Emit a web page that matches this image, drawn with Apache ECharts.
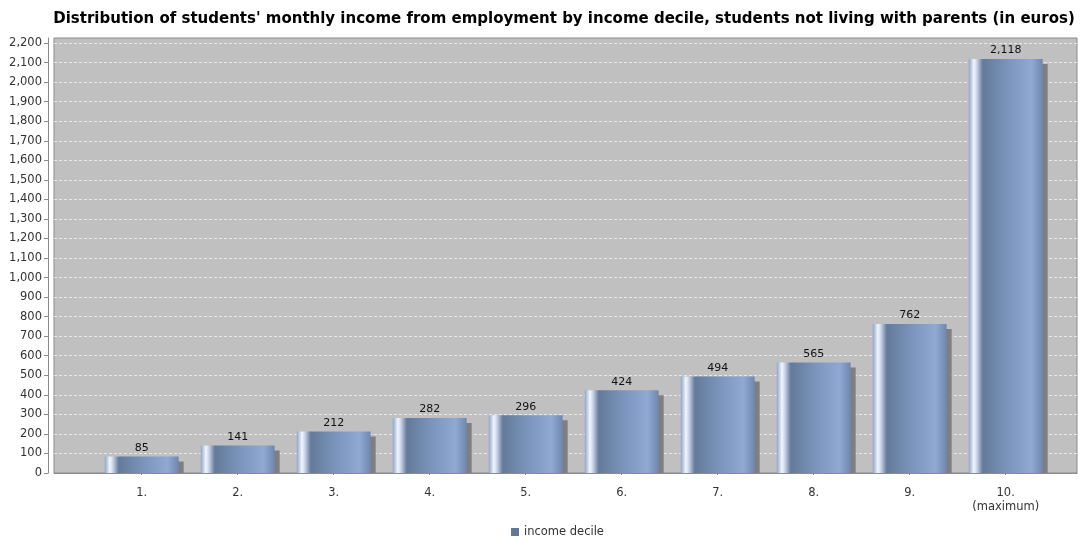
<!DOCTYPE html>
<html>
<head>
<meta charset="utf-8">
<script src="https://cdn.jsdelivr.net/npm/echarts@6/dist/echarts.min.js"></script>
<style>html,body{margin:0;padding:0;background:#fff}#c{width:1081px;height:537px}</style>
</head>
<body>
<div id="c"></div>
<script>
const titleText = "Distribution of students' monthly income from employment by income decile, students not living with parents (in euros)";
const categories = ['1.', '2.', '3.', '4.', '5.', '6.', '7.', '8.', '9.', '10.\n(maximum)'];
const seriesName = 'income decile';
const values = [85, 141, 212, 282, 296, 424, 494, 565, 762, 2118];
const yMin = 0, yMax = 2226, yStep = 100;

const FONT = 'DejaVu Sans';
const fmt = v => Math.round(v).toLocaleString('en-US');
const chart = echarts.init(document.getElementById('c'), null, {renderer: 'canvas'});

const barGradient = new echarts.graphic.LinearGradient(0, 0, 1, 0, [
  {offset: 0, color: '#8ba4c9'},
  {offset: 0.07, color: '#f4f7fb'},
  {offset: 0.11, color: '#c9d4e4'},
  {offset: 0.19, color: '#647a9c'},
  {offset: 0.55, color: '#7c96be'},
  {offset: 0.85, color: '#8fa9d4'},
  {offset: 1, color: '#6f87ae'}
]);

chart.setOption({
  animation: false,
  backgroundColor: '#ffffff',
  textStyle: {fontFamily: FONT},
  title: {
    text: titleText,
    left: 559, top: 7, textAlign: 'center',
    textStyle: {fontFamily: FONT, fontSize: 15, fontWeight: 'bold', color: '#000'}
  },
  legend: {
    data: [seriesName],
    left: 506, top: 521,
    icon: 'rect', itemWidth: 8, itemHeight: 8, itemGap: 4,
    textStyle: {fontFamily: FONT, fontSize: 11.5, color: '#333'}
  },
  grid: [
    {left: 54, right: 4, top: 38, bottom: 64, show: true, backgroundColor: '#c0c0c0', borderColor: '#8a8a8a', borderWidth: 1},
    {left: 93.7, right: 27.3, top: 38, bottom: 64}
  ],
  xAxis: [
    {type: 'category', gridIndex: 0, data: categories, offset: 5,
     axisLine: {show: true, lineStyle: {color: '#8a8a8a', width: 1}},
     axisTick: {show: false}, axisLabel: {show: false}, splitLine: {show: false}},
    {type: 'category', gridIndex: 1, data: categories, offset: 5, boundaryGap: true,
     axisLine: {show: false},
     axisTick: {show: true, alignWithLabel: true, length: 2, lineStyle: {color: '#8a8a8a'}},
     axisLabel: {fontFamily: FONT, fontSize: 11.5, color: '#333', margin: 8, lineHeight: 14, interval: 0},
     splitLine: {show: false}}
  ],
  yAxis: [
    {type: 'value', gridIndex: 0, min: yMin, max: yMax, interval: yStep, offset: 6,
     axisLine: {show: true, lineStyle: {color: '#8a8a8a'}},
     axisTick: {show: true, length: 4, lineStyle: {color: '#8a8a8a'}},
     axisLabel: {fontFamily: FONT, fontSize: 11.5, color: '#333', margin: 6, formatter: fmt, showMaxLabel: false},
     splitLine: {show: true, showMaxLine: false, showMinLine: false, lineStyle: {color: '#ffffff', type: [3, 2], width: 0.8, opacity: 0.8}}},
    {type: 'value', gridIndex: 1, min: yMin, max: yMax, interval: yStep, show: false, splitLine: {show: false}}
  ],
  series: [{
    name: seriesName,
    type: 'custom',
    xAxisIndex: 1, yAxisIndex: 1,
    itemStyle: {color: '#5f7898'},
    encode: {x: 0, y: 1},
    data: values.map((v, i) => [i, v]),
    renderItem: function (params, api) {
      const idx = api.value(0), v = api.value(1);
      const top = api.coord([idx, v]);
      const base = api.coord([idx, 0]);
      const band = api.size([1, 0])[0];
      const w = band * 0.77;
      const left = top[0] - w / 2;
      const h = base[1] - top[1];
      const off = 5;
      return {
        type: 'group',
        children: [
          {type: 'rect', shape: {x: left + off, y: top[1] + off, width: w, height: Math.max(0, h - off)},
           style: {fill: '#7f7f7f'}},
          {type: 'rect', shape: {x: left, y: top[1], width: w, height: h},
           style: {fill: barGradient}},
          {type: 'text', style: {x: top[0], y: top[1] - 3, text: fmt(v), align: 'center', verticalAlign: 'bottom',
            fontFamily: FONT, fontSize: 11, fill: '#111'}}
        ]
      };
    }
  }]
});
</script>
</body>
</html>
